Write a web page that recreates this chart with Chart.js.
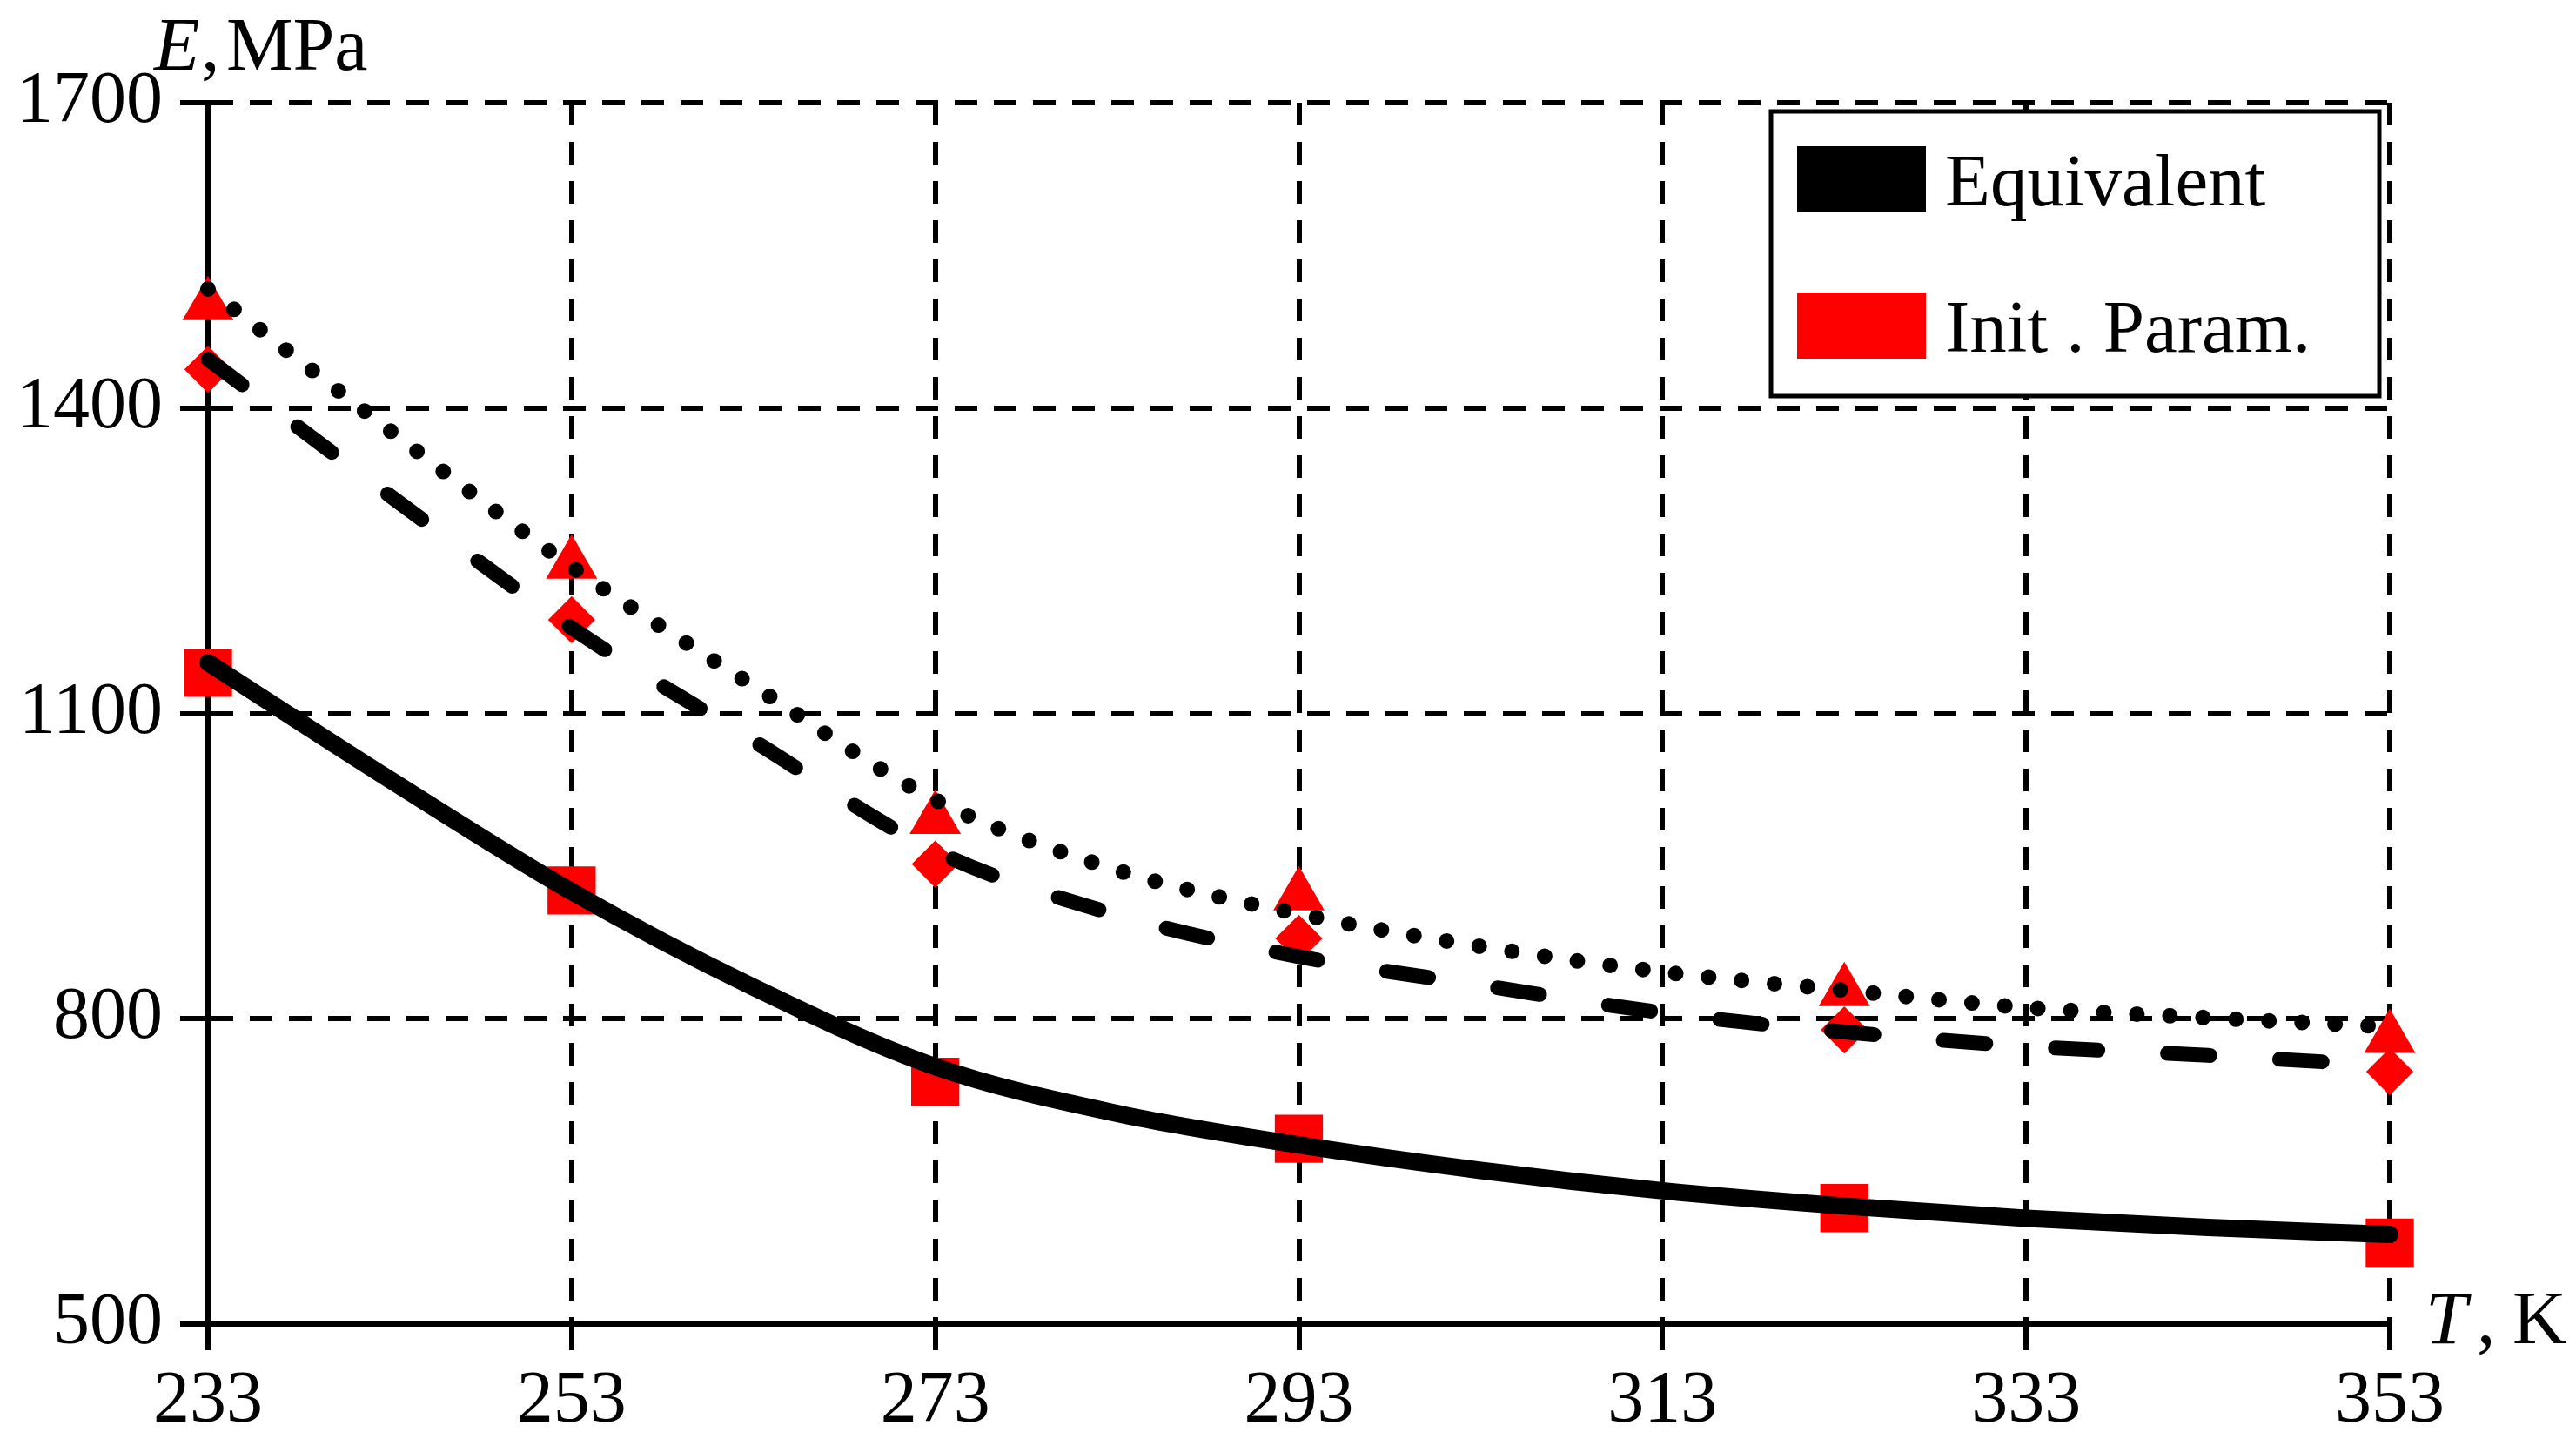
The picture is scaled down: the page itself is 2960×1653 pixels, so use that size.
<!DOCTYPE html>
<html>
<head>
<meta charset="utf-8">
<script src="https://cdn.jsdelivr.net/npm/chart.js@4.4.1/dist/chart.umd.min.js"></script>
<style>
  html, body { margin: 0; padding: 0; background: #fff; }
  canvas { display: block; }
</style>
</head>
<body>
<canvas id="chart" width="2960" height="1653" style="width:2960px;height:1653px"></canvas>
<script>
const xTicks = [233, 253, 273, 293, 313, 333, 353];
const yTicks = [500, 800, 1100, 1400, 1700];

// measured points (red markers)
const measT = [233, 253, 273, 293, 323, 353];
const measSquare = [1140, 926, 738, 682, 614, 580];
const measTriangle = [1501, 1247, 996, 921, 827, 781];
const measDiamond = [1438, 1192, 952, 879, 789, 748];

// equivalent model curves (black lines)
const fitT = [233, 243, 253, 263, 273, 283, 293, 303, 313, 323, 333, 343, 353];
const fitSolid = [1150, 1035, 925, 831, 753, 707, 676, 651, 631, 616, 604, 595, 588];
const fitDotted = [1517, 1378, 1244, 1127, 1015, 946, 903, 871, 846, 828, 811, 801, 792];
const fitDashed = [1448, 1314, 1184, 1073, 965, 902, 861, 833, 806, 787, 773, 764, 754];

const legendLabels = ["Equivalent", "Init . Param."];
const legendColors = ["#000000", "#ff0000"];

const FONT = '"Liberation Serif", "Times New Roman", serif';
const RED = "#ff0000";

const toXY = (xs, ys) => xs.map((x, i) => ({ x: x, y: ys[i] }));

function curve(values, width, dash) {
  return {
    data: toXY(fitT, values),
    borderColor: "#000",
    borderWidth: width,
    borderDash: dash,
    borderCapStyle: "round",
    borderJoinStyle: "round",
    cubicInterpolationMode: "monotone",
    pointRadius: 0,
    fill: false,
    clip: false,
    order: 0,
  };
}

function markers(values, style, radius) {
  return {
    data: toXY(measT, values),
    showLine: false,
    pointStyle: style,
    pointRadius: radius,
    pointBackgroundColor: RED,
    pointBorderColor: RED,
    pointBorderWidth: 3,
    clip: false,
    order: 1,
  };
}

// axis captions and the boxed legend inside the plot
const decorations = {
  id: "decorations",
  afterDraw(chart) {
    const { ctx, chartArea: a } = chart;
    ctx.save();
    ctx.fillStyle = "#000";
    ctx.textBaseline = "alphabetic";
    ctx.textAlign = "left";

    // E, MPa
    ctx.font = `italic 86px ${FONT}`;
    ctx.fillText("E", a.left - 62, a.top - 38);
    ctx.font = `86px ${FONT}`;
    ctx.fillText(",", a.left - 8, a.top - 38);
    ctx.fillText("MPa", a.left + 21, a.top - 38);

    // T , K
    ctx.font = `italic 86px ${FONT}`;
    ctx.fillText("T", a.right + 41, a.bottom + 22);
    ctx.font = `86px ${FONT}`;
    ctx.fillText(",", a.right + 100, a.bottom + 22);
    ctx.fillText("K", a.right + 141, a.bottom + 22);

    // legend
    const bx = a.right - 711, by = a.top + 10, bw = 699, bh = 327;
    ctx.fillStyle = "#fff";
    ctx.fillRect(bx, by, bw, bh);
    ctx.lineWidth = 5;
    ctx.strokeStyle = "#000";
    ctx.strokeRect(bx, by, bw, bh);
    ctx.font = `85px ${FONT}`;
    legendLabels.forEach((label, i) => {
      const rowY = by + 40 + i * 168;
      ctx.fillStyle = legendColors[i];
      ctx.fillRect(bx + 30, rowY, 148, 76);
      ctx.fillStyle = "#000";
      ctx.fillText(label, bx + 200, rowY + 68);
    });
    ctx.restore();
  },
};

new Chart(document.getElementById("chart"), {
  type: "line",
  data: {
    datasets: [
      curve(fitSolid, 20, []),
      curve(fitDashed, 17, [49, 80]),
      curve(fitDotted, 18, [0, 38]),
      markers(measSquare, "rect", 37),
      markers(measTriangle, "triangle", 31),
      markers(measDiamond, "rectRot", 25),
    ],
  },
  options: {
    responsive: false,
    devicePixelRatio: 1,
    animation: false,
    layout: { padding: { left: 0, right: 214, top: 118, bottom: 0 } },
    plugins: {
      legend: { display: false },
      tooltip: { enabled: false },
    },
    scales: {
      x: {
        type: "linear",
        min: 233,
        max: 353,
        afterBuildTicks: (axis) => { axis.ticks = xTicks.map((v) => ({ value: v })); },
        afterFit: (axis) => { axis.height = 132; },
        grid: {
          color: "#000",
          lineWidth: 6,
          tickLength: 30,
          tickWidth: 6,
          tickColor: "#000",
        },
        border: { display: true, color: "#000", width: 6, dash: [26, 19] },
        ticks: {
          color: "#000",
          padding: 10,
          maxRotation: 0,
          callback: (v) => String(v),
          font: { family: FONT, size: 84 },
        },
      },
      y: {
        type: "linear",
        min: 500,
        max: 1700,
        afterBuildTicks: (axis) => { axis.ticks = yTicks.map((v) => ({ value: v })); },
        afterFit: (axis) => { axis.width = 239; },
        grid: {
          color: "#000",
          lineWidth: 6,
          tickLength: 32,
          tickWidth: 6,
          tickColor: "#000",
        },
        border: { display: true, color: "#000", width: 6, dash: [26, 19] },
        ticks: {
          color: "#000",
          padding: 20,
          callback: (v) => String(v),
          font: { family: FONT, size: 84 },
        },
      },
    },
  },
  plugins: [decorations],
});
</script>
</body>
</html>
